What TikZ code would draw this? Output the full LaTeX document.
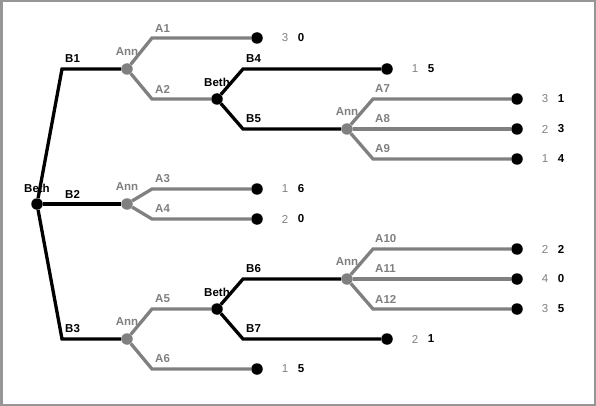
\documentclass[tikz,border=0pt]{standalone}
\usepackage{fontspec}
\setmainfont{Liberation Sans}
\usepackage{xcolor}
\usepackage{tikz}
\usetikzlibrary{positioning}
\definecolor{anngray}{RGB}{128,128,128}
\definecolor{framegray}{RGB}{150,150,150}
\newcommand{\treefont}{\fontsize{11.5}{13}\selectfont}
\tikzset{
  bdot/.style={circle, fill=black, inner sep=0pt, minimum size=11.5pt},
  adot/.style={circle, fill=anngray, inner sep=0pt, minimum size=11.5pt},
  leafdot/.style={circle, fill=black, inner sep=0pt, minimum size=11.5pt},
  bline/.style={line width=3.3pt, color=black},
  aline/.style={line width=3.3pt, color=anngray},
  blab/.style={font=\treefont\bfseries, text=black, inner sep=0pt},
  alab/.style={font=\treefont\bfseries, text=anngray, inner sep=0pt},
  paya/.style={font=\treefont, text=anngray, inner sep=0pt},
  payb/.style={font=\treefont\bfseries, text=black, inner sep=0pt}
}

\begin{document}
\begin{tikzpicture}[x=1pt, y=-1pt]
  \useasboundingbox (0,0) rectangle (596,406);
  \draw[line width=2.5pt, color=framegray] (1.25,1.25) rectangle (594.75,404.75);

  % Player labels
  \node[blab] (lroot) at (37,188) {Beth};
  \node[alab] (lann1) at (127,52) {Ann};
  \node[blab] (lbeth1) at (217,82) {Beth};
  \node[alab] (lann2) at (347,112) {Ann};
  \node[alab] (lann3) at (127,187) {Ann};
  \node[alab] (lann4) at (127,322) {Ann};
  \node[blab] (lbeth2) at (217,292) {Beth};
  \node[alab] (lann5) at (347,262) {Ann};

  % Decision nodes
  \node[bdot] (root) at (37,204) {};
  \node[adot] (ann1) at (127,69) {};
  \node[bdot] (beth1) at (217,99) {};
  \node[adot] (ann2) at (347,129) {};
  \node[adot] (ann3) at (127,204) {};
  \node[adot] (ann4) at (127,339) {};
  \node[bdot] (beth2) at (217,309) {};
  \node[adot] (ann5) at (347,279) {};

  % Leaves
  \node[leafdot] (leaf1) at (257,38) {};
  \node[leafdot] (leaf2) at (387,69) {};
  \node[leafdot] (leaf3) at (517,99) {};
  \node[leafdot] (leaf4) at (517,129) {};
  \node[leafdot] (leaf5) at (517,159) {};
  \node[leafdot] (leaf6) at (257,189) {};
  \node[leafdot] (leaf7) at (257,219) {};
  \node[leafdot] (leaf8) at (257,369) {};
  \node[leafdot] (leaf9) at (387,339) {};
  \node[leafdot] (leaf10) at (517,249) {};
  \node[leafdot] (leaf11) at (517,279) {};
  \node[leafdot] (leaf12) at (517,309) {};

  % Beth's moves
  \draw[bline] (root) -- (62,69) -- (ann1);
  \draw[bline] (root) -- (ann3);
  \draw[bline] (root) -- (62,339) -- (ann4);
  \draw[bline] (beth1) -- (243,69) -- (leaf2);
  \draw[bline] (beth1) -- (243,129) -- (ann2);
  \draw[bline] (beth2) -- (243,279) -- (ann5);
  \draw[bline] (beth2) -- (243,339) -- (leaf9);

  % Ann's moves
  \draw[aline] (ann1) -- (152,38) -- (leaf1);
  \draw[aline] (ann1) -- (152,99) -- (beth1);
  \draw[aline] (ann2) -- (373,99) -- (leaf3);
  \draw[aline] (ann2) -- (leaf4);
  \draw[aline] (ann2) -- (373,159) -- (leaf5);
  \draw[aline] (ann3) -- (152,189) -- (leaf6);
  \draw[aline] (ann3) -- (152,219) -- (leaf7);
  \draw[aline] (ann4) -- (152,309) -- (beth2);
  \draw[aline] (ann4) -- (152,369) -- (leaf8);
  \draw[aline] (ann5) -- (373,249) -- (leaf10);
  \draw[aline] (ann5) -- (leaf11);
  \draw[aline] (ann5) -- (373,309) -- (leaf12);

  % Move labels
  \node[blab, anchor=west] (b1) at (65,59) {B1};
  \node[blab, anchor=west] (b2) at (65,194) {B2};
  \node[blab, anchor=west] (b3) at (65,329) {B3};
  \node[blab, anchor=west] (b4) at (246,59) {B4};
  \node[blab, anchor=west] (b5) at (246,119) {B5};
  \node[blab, anchor=west] (b6) at (246,269) {B6};
  \node[blab, anchor=west] (b7) at (246,329) {B7};
  \node[alab, anchor=west] (a1) at (155,29) {A1};
  \node[alab, anchor=west] (a2) at (155,89) {A2};
  \node[alab, anchor=west] (a3) at (155,179) {A3};
  \node[alab, anchor=west] (a4) at (155,209) {A4};
  \node[alab, anchor=west] (a5) at (155,299) {A5};
  \node[alab, anchor=west] (a6) at (155,359) {A6};
  \node[alab, anchor=west] (a7) at (375,89) {A7};
  \node[alab, anchor=west] (a8) at (375,119) {A8};
  \node[alab, anchor=west] (a9) at (375,149) {A9};
  \node[alab, anchor=west] (a10) at (375,239) {A10};
  \node[alab, anchor=west] (a11) at (375,269) {A11};
  \node[alab, anchor=west] (a12) at (375,299) {A12};

  % Payoffs (Ann, Beth)
  \foreach \lf/\pa/\pb in {leaf1/3/0, leaf2/1/5, leaf3/3/1, leaf4/2/3, leaf5/1/4,
      leaf6/1/6, leaf7/2/0, leaf8/1/5, leaf9/2/1, leaf10/2/2, leaf11/4/0, leaf12/3/5}{
    \node[paya] (pa-\lf) at ([xshift=28pt]\lf.center) {\pa};
    \node[payb] (pb-\lf) at ([xshift=44pt]\lf.center) {\pb};
  }
\end{tikzpicture}
\end{document}
